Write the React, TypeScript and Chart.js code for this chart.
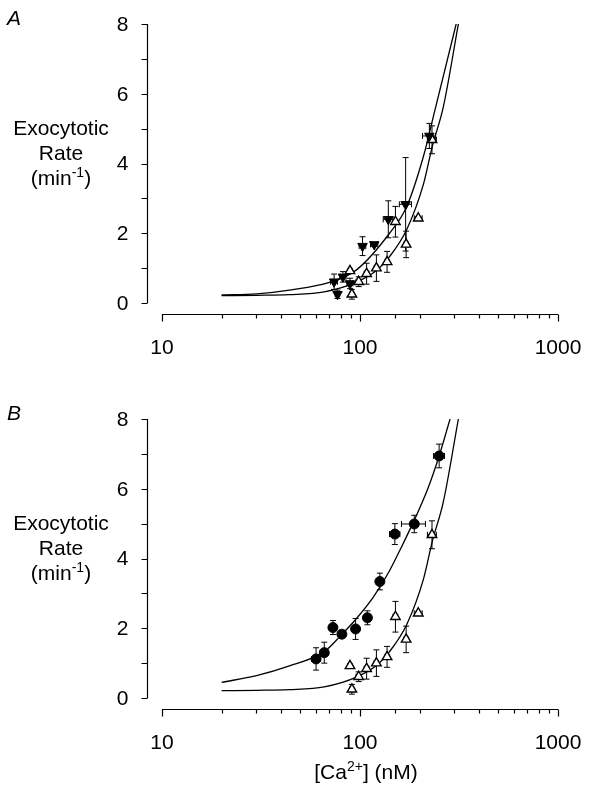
import React, { useEffect, useRef } from "react";
import { Chart, registerables } from "chart.js";

Chart.register(...registerables);

const FONT = '"Liberation Sans", Arial, Helvetica, sans-serif';

// ---- axis / text content ----
const xTickLabels = [10, 100, 1000];
const yTickLabels = [0, 2, 4, 6, 8];
const yTitleLines = ["Exocytotic", "Rate"];
const yTitleUnit = ["(min", "-1", ")"];
const xTitleParts = ["[Ca", "2+", "] (nM)"];
const panelLetters = ["A", "B"];

// ---- Panel A: filled inverted triangles ----
const aTestX = [224, 170, 139, 118, 103, 89, 82, 77, 74];
const aTestY = [4.79, 2.83, 2.4, 1.68, 1.63, 0.56, 0.75, 0.25, 0.61];
const aTestYErr = [0.36, 1.34, 0.53, 0.06, 0.27, 0.15, 0.15, 0.12, 0.22];
const aTestXErr = [17, 12, 8, 5, 4, 3, 3, 2, 3];

// ---- control: open triangles (both panels) ----
const ctrlX = [231, 197, 171, 151, 137, 121, 108, 98.5, 89, 91];
const ctrlY = [4.68, 2.43, 1.68, 2.33, 1.18, 1.0, 0.84, 0.61, 0.92, 0.25];
const ctrlYErr = [0.4, 0.05, 0.38, 0.44, 0.3, 0.38, 0.3, 0.14, 0.05, 0.14];
const ctrlXErr = [12, 9, 4, 4, 3, 3, 3, 3, 2, 2];

// ---- Panel B: filled circles ----
const bTestX = [251, 188, 150, 126, 109, 95, 81, 73, 66, 60];
const bTestY = [6.94, 4.99, 4.7, 3.34, 2.3, 1.98, 1.83, 2.02, 1.3, 1.12];
const bTestYErr = [0.34, 0.25, 0.3, 0.24, 0.2, 0.3, 0.05, 0.2, 0.3, 0.32];
const bTestXErr = [16, 26, 9, 4, 3, 3, 2, 3, 3, 3];

// ---- fitted curves ----
const aTestCurveX = [20, 30, 44, 70, 96, 141, 172, 209, 239, 306];
const aTestCurveY = [0.23, 0.26, 0.37, 0.59, 0.95, 2.0, 2.76, 4.2, 5.53, 8];
const ctrlCurveX = [20, 30, 44, 66, 96, 121, 141, 172, 209, 232, 263, 314];
const ctrlCurveY = [0.21, 0.22, 0.24, 0.32, 0.6, 0.93, 1.33, 2.1, 3.4, 4.5, 5.6, 8];
const bTestCurveX = [20, 30, 44, 66, 79, 96, 117, 141, 161, 188, 220, 251, 285];
const bTestCurveY = [0.45, 0.64, 0.92, 1.33, 1.76, 2.28, 2.9, 3.65, 4.3, 5.1, 6.0, 6.94, 8];

const pts = (xs: number[], ys: number[]) => xs.map((x, i) => ({ x, y: ys[i] }));

const curveDs = (xs: number[], ys: number[]) => ({
  data: pts(xs, ys),
  showLine: true,
  borderColor: "#000",
  borderWidth: 1.3,
  pointRadius: 0,
  tension: 0,
  cubicInterpolationMode: "monotone",
  fill: false,
});

const markerDs = (
  xs: number[],
  ys: number[],
  ex: number[],
  ey: number[],
  style: string,
  rotation: number,
  filled: boolean,
  radius: number
) => ({
  data: pts(xs, ys),
  errX: ex,
  errY: ey,
  showLine: false,
  pointStyle: style,
  rotation,
  pointRotation: rotation,
  pointRadius: radius,
  pointBackgroundColor: filled ? "#000" : "#fff",
  pointBorderColor: "#000",
  pointBorderWidth: filled ? 1 : 1.4,
});

const paperPlugin = {
  id: "paper",
  beforeDatasetsDraw(chart: any) {
    const ctx = chart.ctx;
    const xs = chart.scales.x;
    const ys = chart.scales.y;
    ctx.save();
    ctx.strokeStyle = "#000";
    ctx.lineWidth = 1;
    const cap = 3;
    chart.data.datasets.forEach((ds: any) => {
      if (!ds.errY) return;
      ds.data.forEach((p: any, i: number) => {
        const px = xs.getPixelForValue(p.x);
        const py = ys.getPixelForValue(p.y);
        const ey = ds.errY[i];
        const ex = ds.errX[i];
        if (ey) {
          const y1 = ys.getPixelForValue(p.y + ey);
          const y2 = ys.getPixelForValue(p.y - ey);
          ctx.beginPath();
          ctx.moveTo(px, y1);
          ctx.lineTo(px, y2);
          ctx.moveTo(px - cap, y1);
          ctx.lineTo(px + cap, y1);
          ctx.moveTo(px - cap, y2);
          ctx.lineTo(px + cap, y2);
          ctx.stroke();
        }
        if (ex) {
          const x1 = xs.getPixelForValue(p.x - ex);
          const x2 = xs.getPixelForValue(p.x + ex);
          ctx.beginPath();
          ctx.moveTo(x1, py);
          ctx.lineTo(x2, py);
          ctx.moveTo(x1, py - cap);
          ctx.lineTo(x1, py + cap);
          ctx.moveTo(x2, py - cap);
          ctx.lineTo(x2, py + cap);
          ctx.stroke();
        }
      });
    });
    ctx.restore();
  },
  afterDraw(chart: any, _args: any, opts: any) {
    const ctx = chart.ctx;
    const xs = chart.scales.x;
    const ys = chart.scales.y;
    const area = chart.chartArea;
    const mainFont = `21px ${FONT}`;
    ctx.save();
    ctx.strokeStyle = "#000";
    ctx.fillStyle = "#000";
    ctx.lineWidth = 1.2;

    // detached y axis
    const axX = Math.round(area.left - 15) + 0.5;
    const yTop = ys.getPixelForValue(8);
    const yBot = ys.getPixelForValue(0);
    ctx.beginPath();
    ctx.moveTo(axX, yTop);
    ctx.lineTo(axX, yBot);
    ys.ticks.forEach((t: any) => {
      const py = Math.round(ys.getPixelForValue(t.value)) + 0.5;
      ctx.moveTo(axX - 6, py);
      ctx.lineTo(axX, py);
    });
    ctx.stroke();
    ctx.font = mainFont;
    ctx.textAlign = "right";
    ctx.textBaseline = "middle";
    yTickLabels.forEach((v) => {
      ctx.fillText(String(v), axX - 19, ys.getPixelForValue(v) + 1);
    });

    // detached x axis
    const axY = Math.round(area.bottom + 11) + 0.5;
    const xL = xs.getPixelForValue(10);
    const xR = xs.getPixelForValue(1000);
    ctx.beginPath();
    ctx.moveTo(xL, axY);
    ctx.lineTo(xR, axY);
    xs.ticks.forEach((t: any) => {
      const px = Math.round(xs.getPixelForValue(t.value)) + 0.5;
      const major = xTickLabels.includes(t.value);
      ctx.moveTo(px, axY);
      ctx.lineTo(px, axY + (major ? 7 : 4));
    });
    ctx.stroke();
    ctx.textAlign = "center";
    xTickLabels.forEach((v) => {
      ctx.fillText(String(v), xs.getPixelForValue(v), axY + 34);
    });

    // panel letter
    ctx.textAlign = "left";
    ctx.textBaseline = "alphabetic";
    ctx.font = `italic 21px ${FONT}`;
    ctx.fillText(opts.letter, 7, 25);

    // y title
    const cx = 61;
    ctx.font = mainFont;
    ctx.textAlign = "center";
    ctx.fillText(yTitleLines[0], cx, 135);
    ctx.fillText(yTitleLines[1], cx, 160);
    ctx.textAlign = "left";
    const supFont = `14px ${FONT}`;
    ctx.font = mainFont;
    const w1 = ctx.measureText(yTitleUnit[0]).width;
    const w3 = ctx.measureText(yTitleUnit[2]).width;
    ctx.font = supFont;
    const w2 = ctx.measureText(yTitleUnit[1]).width;
    const sx = cx - (w1 + w2 + w3) / 2;
    ctx.font = mainFont;
    ctx.fillText(yTitleUnit[0], sx, 185);
    ctx.font = supFont;
    ctx.fillText(yTitleUnit[1], sx + w1, 177);
    ctx.font = mainFont;
    ctx.fillText(yTitleUnit[2], sx + w1 + w2, 185);

    // x title
    if (opts.showXTitle) {
      ctx.font = mainFont;
      const a1 = ctx.measureText(xTitleParts[0]).width;
      const a3 = ctx.measureText(xTitleParts[2]).width;
      ctx.font = supFont;
      const a2 = ctx.measureText(xTitleParts[1]).width;
      const tcx = 366;
      const tx = tcx - (a1 + a2 + a3) / 2;
      const base = area.bottom + 81;
      ctx.font = mainFont;
      ctx.fillText(xTitleParts[0], tx, base);
      ctx.font = supFont;
      ctx.fillText(xTitleParts[1], tx + a1, base - 8);
      ctx.font = mainFont;
      ctx.fillText(xTitleParts[2], tx + a1 + a2, base);
    }
    ctx.restore();
  },
};

function Panel(props: { top: number; height: number; letter: string; datasets: any[]; showXTitle: boolean }) {
  const ref = useRef<HTMLCanvasElement>(null);
  useEffect(() => {
    const h = props.height;
    const chart = new Chart(ref.current as HTMLCanvasElement, {
      type: "scatter",
      data: { datasets: props.datasets },
      options: {
        animation: false,
        responsive: false,
        devicePixelRatio: 1,
        layout: { padding: { top: 24, right: 32, left: 0, bottom: 0 } },
        plugins: {
          legend: { display: false },
          tooltip: { enabled: false },
          paper: { letter: props.letter, showXTitle: props.showXTitle },
        } as any,
        scales: {
          x: {
            type: "logarithmic",
            min: 10,
            max: 1000,
            grid: { display: false },
            border: { display: false },
            ticks: { display: false, autoSkip: false },
            afterFit: (s: any) => {
              s.height = h - 303;
            },
          },
          y: {
            type: "linear",
            min: 0,
            max: 8,
            grid: { display: false },
            border: { display: false },
            ticks: { display: false, stepSize: 1 },
            afterFit: (s: any) => {
              s.width = 162;
            },
          },
        } as any,
      },
      plugins: [paperPlugin as any],
    });
    return () => chart.destroy();
  }, []);
  return (
    <canvas
      ref={ref}
      width={590}
      height={props.height}
      style={{ position: "absolute", left: 0, top: props.top, width: 590, height: props.height }}
    />
  );
}

export default function App() {
  const dsA = [
    markerDs(aTestX, aTestY, aTestXErr, aTestYErr, "triangle", 180, true, 5.5),
    markerDs(ctrlX, ctrlY, ctrlXErr, ctrlYErr, "triangle", 0, false, 5.5),
    curveDs(aTestCurveX, aTestCurveY),
    curveDs(ctrlCurveX, ctrlCurveY),
  ];
  const dsB = [
    markerDs(bTestX, bTestY, bTestXErr, bTestYErr, "circle", 0, true, 5),
    markerDs(ctrlX, ctrlY, ctrlXErr, ctrlYErr, "triangle", 0, false, 5.5),
    curveDs(bTestCurveX, bTestCurveY),
    curveDs(ctrlCurveX, ctrlCurveY),
  ];
  return (
    <div style={{ position: "absolute", left: 0, top: 0, width: 590, height: 803, background: "#fff" }}>
      <Panel top={0} height={395} letter={panelLetters[0]} datasets={dsA} showXTitle={false} />
      <Panel top={395} height={408} letter={panelLetters[1]} datasets={dsB} showXTitle={true} />
    </div>
  );
}
